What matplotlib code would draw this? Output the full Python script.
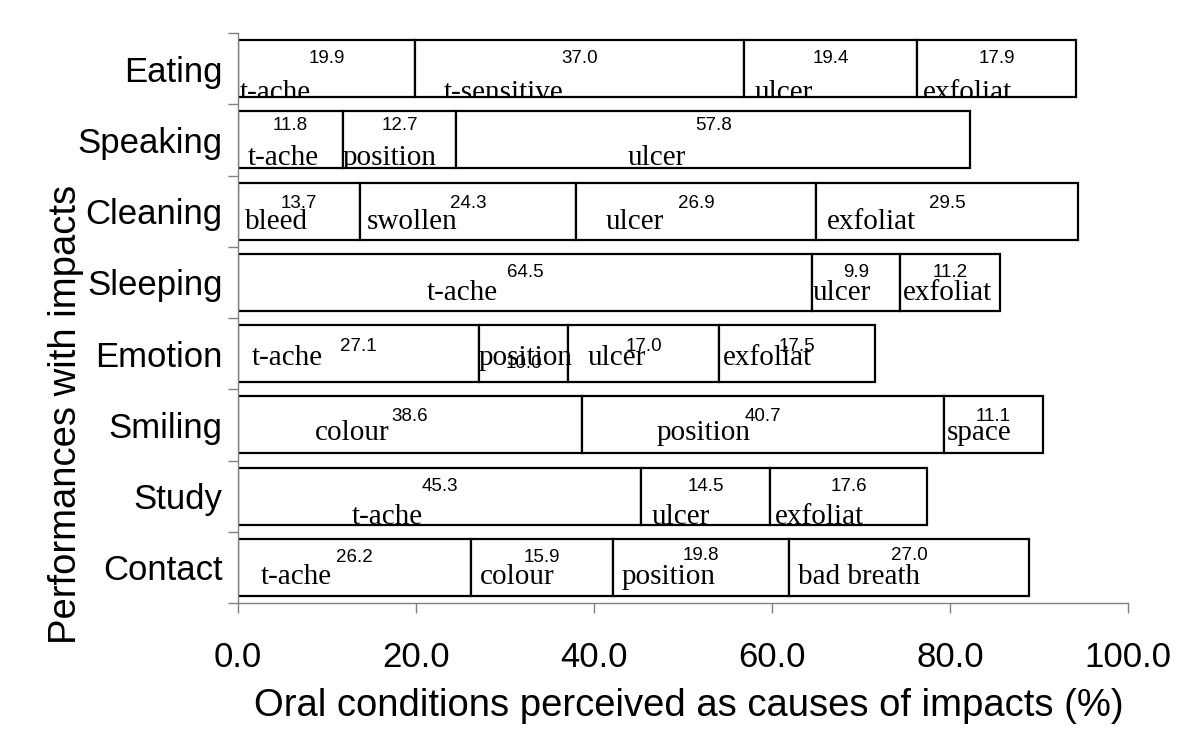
import numpy as np
import matplotlib
matplotlib.use("Agg")
import matplotlib.pyplot as plt
from matplotlib.patches import Rectangle
from matplotlib.ticker import FixedLocator, FormatStrFormatter

# ---------------- data ----------------
activities = ["Eating", "Speaking", "Cleaning", "Sleeping",
              "Emotion", "Smiling", "Study", "Contact"]
values = [
    [19.9, 37.0, 19.4, 17.9],
    [11.8, 12.7, 57.8],
    [13.7, 24.3, 26.9, 29.5],
    [64.5, 9.9, 11.2],
    [27.1, 10.0, 17.0, 17.5],
    [38.6, 40.7, 11.1],
    [45.3, 14.5, 17.6],
    [26.2, 15.9, 19.8, 27.0],
]
causes = [
    ["t-ache", "t-sensitive", "ulcer", "exfoliat"],
    ["t-ache", "position", "ulcer"],
    ["bleed", "swollen", "ulcer", "exfoliat"],
    ["t-ache", "ulcer", "exfoliat"],
    ["t-ache", "position", "ulcer", "exfoliat"],
    ["colour", "position", "space"],
    ["t-ache", "ulcer", "exfoliat"],
    ["t-ache", "colour", "position", "bad breath"],
]
xticks = [0, 20, 40, 60, 80, 100]
xlabel = "Oral conditions perceived as causes of impacts (%)"
ylabel = "Performances with impacts"

# ---------------- layout (pixel offsets of in-bar texts) ----------------
cause_dx = [[2, 29, 10, 6], [10, 0, 172], [7, 7, 29, 11], [189, 1, 3],
            [14, -1, 19, 3], [77, 75, 3], [114, 10, 5], [23, 9, 9, 9]]
cause_base = [-3, 3, 11, 11, 17, 13, 1, 12]
num_top = [[10, 10, 10, 10], [6, 6, 6], [12, 12, 12, 12], [10, 10, 10],
           [13, 30, 13, 13], [12, 12, 12], [10, 10, 10], [10, 10, 8, 8]]
PX = 0.72  # points per pixel at dpi 100

SANS = "Liberation Sans"
SERIF = "Liberation Serif"

fig = plt.figure(figsize=(11.98, 7.48), dpi=100)
ax = fig.add_axes([238 / 1198, 1 - 603 / 748, 890 / 1198, 570 / 748])

bar_h = 0.8
for i, (vals, labs) in enumerate(zip(values, causes)):
    lefts = np.concatenate([[0.0], np.cumsum(vals)[:-1]])
    ax.barh([i] * len(vals), vals, left=lefts, height=bar_h,
            color="white", edgecolor="black", linewidth=1.6, zorder=2)
    clip = Rectangle((0, i - bar_h / 2), float(np.sum(vals)), bar_h,
                     transform=ax.transData)
    for j, (v, lab, lf) in enumerate(zip(vals, labs, lefts)):
        ax.annotate(f"{v:.1f}", xy=(lf + v / 2, i - bar_h / 2),
                    xytext=(0, -num_top[i][j] * PX), textcoords="offset points",
                    ha="center", va="top", fontsize=13.5, family=SANS, zorder=4)
        t = ax.annotate(lab, xy=(lf, i + bar_h / 2),
                        xytext=(cause_dx[i][j] * PX, cause_base[i] * PX),
                        textcoords="offset points", ha="left", va="baseline",
                        fontsize=21, family=SERIF, zorder=3)
        t.set_clip_path(clip)

ax.set_xlim(0, 100)
ax.set_ylim(len(activities) - 0.5, -0.5)

ax.set_yticks(range(len(activities)))
ax.set_yticklabels(activities, fontsize=25, family=SANS)
ax.yaxis.set_minor_locator(FixedLocator(np.arange(-0.5, len(activities), 1.0)))
ax.tick_params(axis="y", which="major", length=0, pad=11)
ax.tick_params(axis="y", which="minor", length=7.5, width=1, color="#808080")

ax.set_xticks(xticks)
ax.xaxis.set_major_formatter(FormatStrFormatter("%.1f"))
ax.tick_params(axis="x", which="major", length=7.5, width=1, color="#808080",
               labelcolor="black", pad=20, labelsize=25)
for lab in ax.get_xticklabels():
    lab.set_family(SANS)

for s in ["top", "right"]:
    ax.spines[s].set_visible(False)
for s in ["left", "bottom"]:
    ax.spines[s].set_color("#808080")
    ax.spines[s].set_linewidth(1)

ax.set_xlabel(xlabel, fontsize=27.5, family=SANS)
ax.xaxis.set_label_coords(0.507, -0.149)
ax.set_ylabel(ylabel, fontsize=27.5, family=SANS)
ax.yaxis.set_label_coords(-0.173, 0.33)

fig.savefig("out.png", dpi=100)
